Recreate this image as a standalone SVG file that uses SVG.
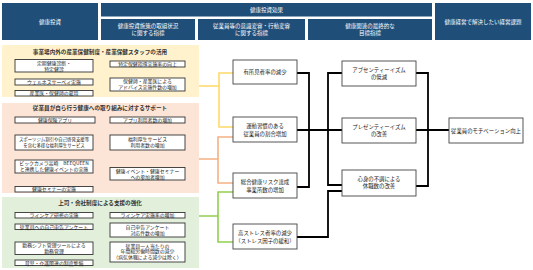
<svg xmlns="http://www.w3.org/2000/svg" width="533" height="270" viewBox="0 0 533 270">
<style>
text{font-family:"Noto Sans CJK JP","Noto Sans CJK SC",sans-serif;text-anchor:middle;}
.hd rect{fill:#1f4e79;}
.hd text{fill:#fff;font-size:5.5px;}
.pt{font-size:5.6px;font-weight:bold;fill:#333;}
.sb rect{fill:#fff;stroke:#333;stroke-width:0.9;}
.sb text{font-size:4.9px;fill:#222;}
.sb text.sm{font-size:4.4px;}
.mb rect{fill:#fff;stroke:#444;stroke-width:0.9;}
.mb text{font-size:5.4px;fill:#222;}
.blk{fill:none;stroke:#000;stroke-width:1.8;}
.yl{fill:none;stroke:#ffd966;stroke-width:1.6;}
.or{fill:none;stroke:#f4b183;stroke-width:1.6;}
.gr{fill:none;stroke:#92d050;stroke-width:1.6;}
</style>
<rect width="533" height="270" fill="#fff"/>
<g id="header" class="hd">
<g id="h-invest"><rect x="2" y="3" width="96" height="37"/><text x="50" y="23.5">健康投資</text></g>
<g id="h-effect"><rect x="101" y="3" width="331" height="13.5"/><text x="266.5" y="11.7">健康投資効果</text></g>
<g id="h-sub1"><rect x="101" y="19" width="94" height="21"/><text x="148" y="27.5">健康投資施策の取組状況</text><text x="148" y="35">に関する指標</text></g>
<g id="h-sub2"><rect x="198" y="19" width="107" height="21"/><text x="251.5" y="27.5">従業員等の意識変容・行動変容</text><text x="251.5" y="35">に関する指標</text></g>
<g id="h-sub3"><rect x="308" y="19" width="124" height="21"/><text x="370" y="27.5">健康関連の最終的な</text><text x="370" y="35">目標指標</text></g>
<g id="h-issue"><rect x="435" y="3" width="96" height="37"/><text x="483" y="23.5">健康経営で解決したい経営課題</text></g>
</g>
<g id="panel-yellow">
<rect x="2" y="45" width="197" height="52" fill="#fff2cc"/>
<text class="pt" x="100" y="53.5">事業場内外の産業保健制度・産業保健スタッフの活用</text>
</g>
<g id="panel-pink">
<rect x="2" y="103" width="197" height="90" fill="#fce4d6"/>
<text class="pt" x="100" y="110">従業員が自ら行う健康への取り組みに対するサポート</text>
</g>
<g id="panel-green">
<rect x="2" y="197" width="197" height="71" fill="#e2efda"/>
<text class="pt" x="100" y="204.5">上司・会社制度による支援の強化</text>
</g>
<g id="a1" class="sb"><rect x="15" y="59.5" width="78" height="12.5"/><text x="54" y="64.7">定期健康診断・</text><text x="54" y="70.6">特定健診</text></g>
<g id="a2" class="sb"><rect x="110" y="61" width="75" height="6"/><text x="147.5" y="65.8">特定保健指導実施率の向上</text></g>
<g id="a3" class="sb"><rect x="15" y="79" width="78" height="6"/><text x="54" y="83.8">ウェルネスサーベイ実施</text></g>
<g id="a4" class="sb"><rect x="110" y="78" width="75" height="13"/><text x="147.5" y="83.4">保健師・産業医による</text><text x="147.5" y="89.3">アドバイス実施件数の増加</text></g>
<g id="a5" class="sb"><rect x="15" y="90.5" width="78" height="5.5"/><text x="54" y="95">産業医・保健師の雇用</text></g>
<g id="b1" class="sb"><rect x="15" y="117" width="80" height="6"/><text x="55" y="121.8">健康保険アプリ</text></g>
<g id="b2" class="sb"><rect x="110" y="117" width="75" height="6"/><text x="147.5" y="121.8">アプリ利用者数の増加</text></g>
<g id="b3" class="sb"><rect x="15" y="135" width="78" height="15"/><text class="sm" x="54" y="141">スポーツジム割引や自己啓発支援等</text><text class="sm" x="54" y="147">を含む多様な福利厚生サービス</text></g>
<g id="b4" class="sb"><rect x="110" y="135" width="75" height="15"/><text x="147.5" y="141">福利厚生サービス</text><text x="147.5" y="147.2">利用者数の増加</text></g>
<g id="b5" class="sb"><rect x="15" y="160" width="78" height="13"/><text x="54" y="165.4">ビックカメラ高崎　BEEQUEEN</text><text x="54" y="171.3">と連携した健康イベントの実施</text></g>
<g id="b6" class="sb"><rect x="110" y="167.5" width="75" height="12.5"/><text x="147.5" y="172.7">健康イベント・健康セミナー</text><text x="147.5" y="178.6">への参加者増加</text></g>
<g id="b7" class="sb"><rect x="15" y="186.5" width="78" height="5.5"/><text x="54" y="191">健康セミナーの実施</text></g>
<g id="c1" class="sb"><rect x="15" y="212.5" width="78" height="5.5"/><text x="54" y="217">ラインケア研修の実施</text></g>
<g id="c2" class="sb"><rect x="110" y="212.5" width="75" height="5.5"/><text x="147.5" y="217">ラインケア実施率の増加</text></g>
<g id="c3" class="sb"><rect x="15" y="224" width="78" height="5.5"/><text x="54" y="228.5">従業員への自己申告アンケート</text></g>
<g id="c4" class="sb"><rect x="110" y="223" width="75" height="14"/><text x="147.5" y="229">自己申告アンケート</text><text x="147.5" y="235">対応件数の増加</text></g>
<g id="c5" class="sb"><rect x="15" y="242" width="78" height="12.5"/><text x="54" y="247.2">勤務シフト管理ツールによる</text><text x="54" y="253.1">勤務管理</text></g>
<g id="c6" class="sb"><rect x="110" y="242" width="75" height="20"/><text x="147.5" y="247.6">従業員一人当たりの</text><text x="147.5" y="253.4">年間総労働時間数の減少</text><text x="147.5" y="259.2">（病気休職による減少は除く）</text></g>
<g id="c7" class="sb"><rect x="15" y="260" width="78" height="5.5"/><text x="54" y="264.5">育児・介護関連の制度整備</text></g>
<g id="connectors">
<path class="yl" d="M199 86H219M233 73H219V127H233"/>
<path class="or" d="M199 159H218M233 137H218V183H233"/>
<path class="gr" d="M199 216H218M233 192H218V242H233"/>
<path class="blk" d="M297 73H309V187H297"/>
<path class="blk" d="M297 130H342"/>
<path class="blk" d="M342 73H328V185H342"/>
<path class="blk" d="M297 237H328V191H342"/>
<path class="blk" d="M416 73H428V186H416"/>
<path class="blk" d="M416 130H449"/>
</g>
<g id="m1" class="mb"><rect x="233" y="60" width="64" height="24"/><text x="265" y="74">有所見者率の減少</text></g>
<g id="m2" class="mb"><rect x="233" y="117" width="64" height="25"/><text x="265" y="128">運動習慣のある</text><text x="265" y="135.5">従業員の割合増加</text></g>
<g id="m3" class="mb"><rect x="233" y="173" width="64" height="25"/><text x="265" y="184">総合健康リスク達成</text><text x="265" y="191.5">事業所数の増加</text></g>
<g id="m4" class="mb"><rect x="233" y="224" width="64" height="25"/><text x="265" y="235">高ストレス者率の減少</text><text x="265" y="242.5">（ストレス因子の緩和）</text></g>
<g id="r1" class="mb"><rect x="342" y="61" width="74" height="25"/><text x="379" y="71.5">アブセンティーイズム</text><text x="379" y="79">の低減</text></g>
<g id="r2" class="mb"><rect x="342" y="118" width="74" height="25"/><text x="379" y="128.5">プレゼンティーイズム</text><text x="379" y="136">の改善</text></g>
<g id="r3" class="mb"><rect x="342" y="170" width="74" height="26"/><text x="379" y="180.5">心身の不調による</text><text x="379" y="188">休職数の改善</text></g>
<g id="r4" class="mb"><rect x="449" y="118" width="74" height="25"/><text x="486" y="132.5">従業員のモチベーション向上</text></g>
</svg>
